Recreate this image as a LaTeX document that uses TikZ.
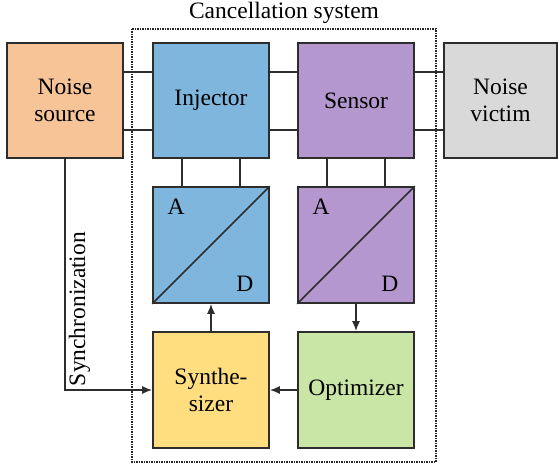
\documentclass[tikz,border=0pt]{standalone}
\usepackage{fontspec}
\setmainfont{Liberation Serif}
\usetikzlibrary{arrows.meta}

\definecolor{srcfill}{RGB}{247,196,152}
\definecolor{injfill}{RGB}{126,182,222}
\definecolor{senfill}{RGB}{180,151,206}
\definecolor{vicfill}{RGB}{217,217,217}
\definecolor{synfill}{RGB}{255,222,128}
\definecolor{optfill}{RGB}{201,230,167}
\definecolor{edge}{RGB}{45,45,45}

\tikzset{
  block/.style={draw=edge, line width=1.6pt, minimum width=116pt, minimum height=116pt,
    inner sep=0pt, align=center, font=\fontsize{23.5}{27}\selectfont},
  wire/.style={draw=edge, line width=1.6pt},
  flow/.style={wire, -{Latex[length=10pt,width=8pt]}},
  letter/.style={inner sep=0pt, font=\fontsize{23.5}{27}\selectfont},
  system/.style={draw=black!85, line width=1.3pt, dash pattern=on 1.3pt off 1.2pt}
}

\begin{document}
\begin{tikzpicture}[x=1pt, y=-1pt]
  \useasboundingbox (0,0) rectangle (558,465);

  % cancellation system frame and its title
  \draw[system] (132,29) rectangle (436,462);
  \node[anchor=base, inner sep=0pt, font=\fontsize{23.5}{27}\selectfont] (title) at (284,19) {Cancellation system};

  % top row
  \node[block, fill=srcfill, minimum height=115pt] (src) at (65,100.5) {Noise\\source};
  \node[block, fill=injfill, minimum height=115pt] (inj) at (211,100.5) {Injector};
  \node[block, fill=senfill, minimum height=115pt] (sen) at (356,100.5) {Sensor};
  \node[block, fill=vicfill, minimum height=115pt, minimum width=113pt] (vic) at (500.5,100.5) {Noise\\victim};

  % converters
  \node[block, fill=injfill] (dac) at (211,245) {};
  \node[block, fill=senfill] (adc) at (356,245) {};
  \draw[wire] (dac.south west) -- (dac.north east);
  \draw[wire] (adc.south west) -- (adc.north east);
  \node[letter] (daca) at ([xshift=24pt, yshift=-21pt]dac.north west) {A};
  \node[letter] (dacd) at ([xshift=-25pt, yshift=20pt]dac.south east) {D};
  \node[letter] (adca) at ([xshift=24pt, yshift=-21pt]adc.north west) {A};
  \node[letter] (adcd) at ([xshift=-25pt, yshift=20pt]adc.south east) {D};

  % bottom row
  \node[block, fill=synfill] (syn) at (211,390) {Synthe-\\sizer};
  \node[block, fill=optfill] (opt) at (356,390) {Optimizer};

  % two-wire links along the top row
  \foreach \a/\b in {src/inj, inj/sen, sen/vic} {
    \draw[wire] ([yshift=28.5pt]\a.east) -- ([yshift=28.5pt]\b.west);
    \draw[wire] ([yshift=-29.5pt]\a.east) -- ([yshift=-29.5pt]\b.west);
  }

  % two-wire links to the converters
  \foreach \a/\b in {inj/dac, sen/adc} {
    \draw[wire] ([xshift=-29pt]\a.south) -- ([xshift=-29pt]\b.north);
    \draw[wire] ([xshift=29pt]\a.south) -- ([xshift=29pt]\b.north);
  }

  % signal flow
  \draw[flow] (syn.north) -- (dac.south);
  \draw[flow] (adc.south) -- (opt.north);
  \draw[flow] (opt.west) -- (syn.east);
  \draw[flow] (src.south) |- (syn.west);
  \node[rotate=90, inner sep=0pt, font=\fontsize{23.5}{27}\selectfont] (sync) at (79.5,309) {Synchronization};
\end{tikzpicture}
\end{document}
